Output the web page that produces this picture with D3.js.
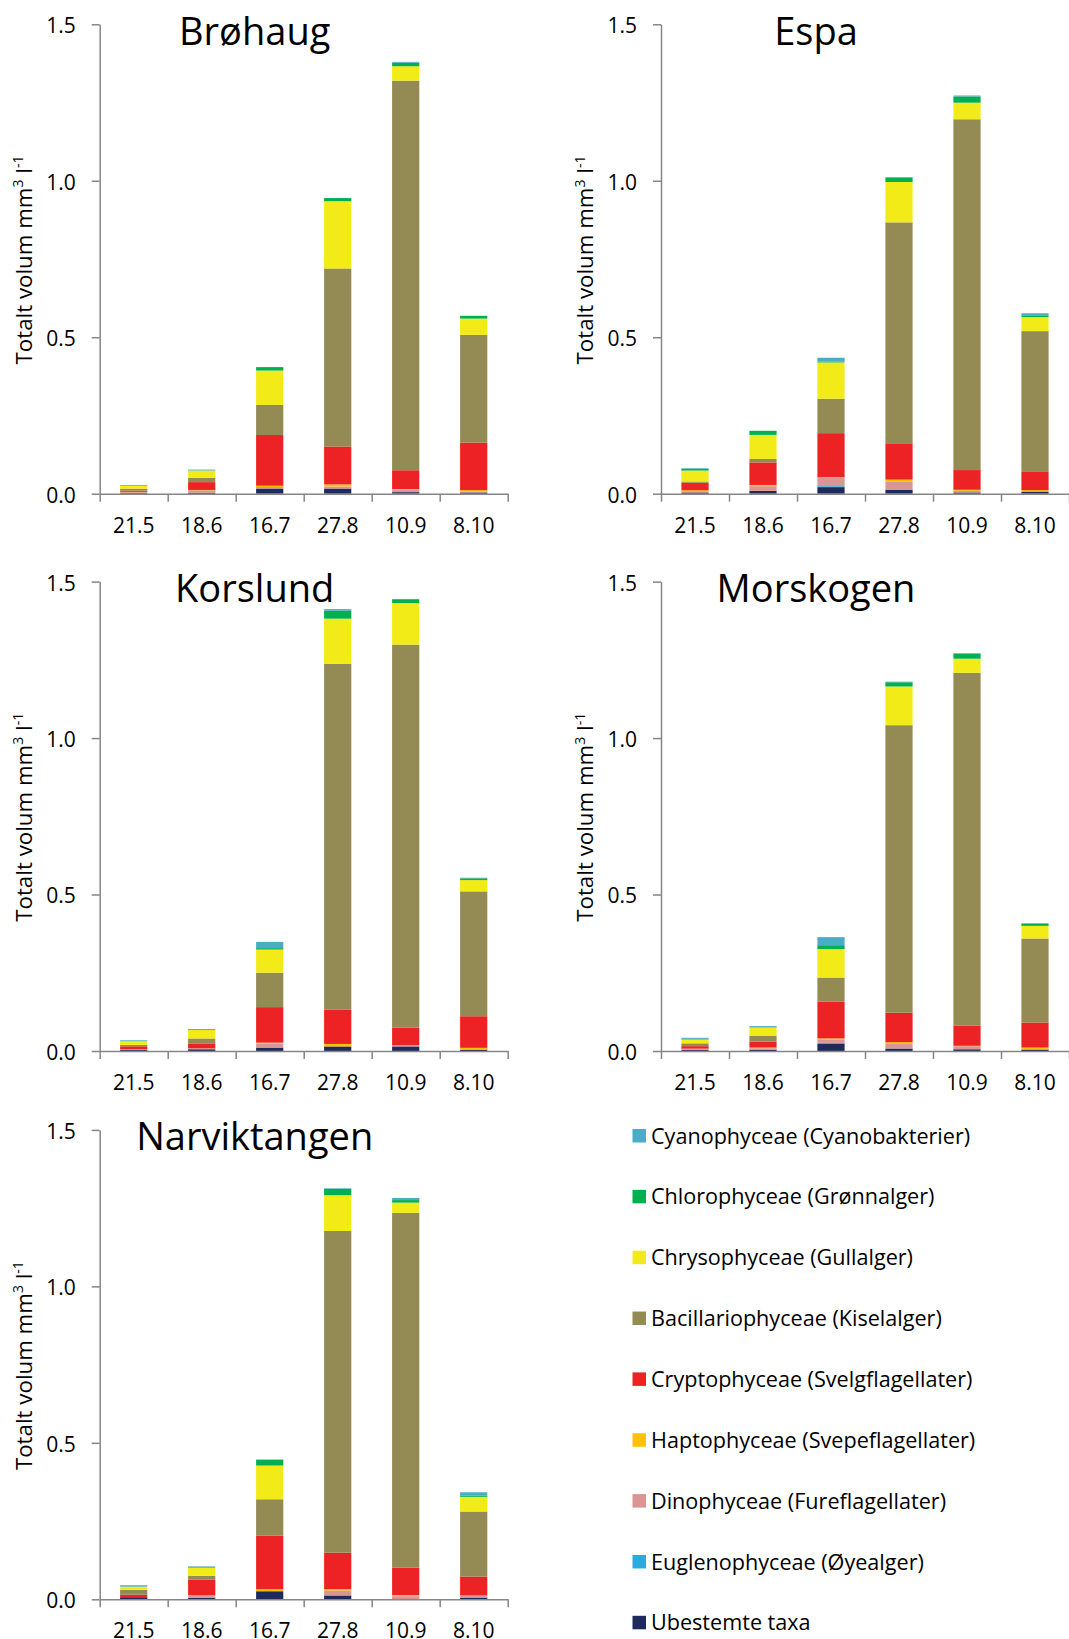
<!DOCTYPE html>
<html>
<head>
<meta charset="utf-8">
<script src="https://cdn.jsdelivr.net/npm/d3@7"></script>
<style>
  html, body { margin: 0; padding: 0; background: #fff; }
  svg { display: block; font-family: "Open Sans", "Noto Sans", sans-serif; }
</style>
</head>
<body>
<svg id="chart" width="1069" height="1639"></svg>
<script>
// ---------- DATA ----------
const dates = ["21.5", "18.6", "16.7", "27.8", "10.9", "8.10"];
const classes = [
  "Cyanophyceae (Cyanobakterier)",
  "Chlorophyceae (Grønnalger)",
  "Chrysophyceae (Gullalger)",
  "Bacillariophyceae (Kiselalger)",
  "Cryptophyceae (Svelgflagellater)",
  "Haptophyceae (Svepeflagellater)",
  "Dinophyceae (Fureflagellater)",
  "Euglenophyceae (Øyealger)",
  "Ubestemte taxa"
];
const classColors = ["#4BACC6", "#00B050", "#F3EB17", "#948A54", "#ED2224", "#FFC000", "#DA9694", "#29ABE2", "#1F2A5C"];
const siteNames = ["Brøhaug", "Espa", "Korslund", "Morskogen", "Narviktangen"];
const yTickValues = [0, 0.5, 1.0, 1.5];
const yLabel = "Totalt volum mm";

// rows follow the legend order of classes; columns follow dates (mm3/l)
const brohaug = [
  [0.002, 0.003, 0, 0, 0.003, 0],
  [0.001, 0, 0.011, 0.010, 0.011, 0.009],
  [0.009, 0.023, 0.110, 0.215, 0.046, 0.052],
  [0.006, 0.014, 0.096, 0.569, 1.245, 0.344],
  [0.004, 0.025, 0.162, 0.121, 0.060, 0.152],
  [0.001, 0.001, 0.004, 0.0066, 0.001, 0.0055],
  [0.003, 0.008, 0.005, 0.0066, 0.009, 0.002],
  [0, 0, 0, 0, 0, 0],
  [0.002, 0.003, 0.0165, 0.0165, 0.005, 0.004]
];
const espa = [
  [0.002, 0, 0.012, 0.002, 0.003, 0.0066],
  [0.0055, 0.013, 0.003, 0.014, 0.020, 0.0055],
  [0.035, 0.077, 0.116, 0.129, 0.053, 0.045],
  [0.004, 0.011, 0.110, 0.706, 1.121, 0.450],
  [0.024, 0.072, 0.141, 0.116, 0.063, 0.058],
  [0.003, 0.004, 0.002, 0.0055, 0.003, 0.003],
  [0.004, 0.015, 0.0265, 0.0276, 0.0055, 0.003],
  [0, 0, 0.003, 0, 0, 0],
  [0.004, 0.009, 0.021, 0.012, 0.004, 0.0055]
];
const korslund = [
  [0.002, 0.003, 0.020, 0.0045, 0, 0.002],
  [0.001, 0, 0.0045, 0.026, 0.0124, 0.0056],
  [0.012, 0.027, 0.074, 0.144, 0.1326, 0.036],
  [0.0045, 0.0157, 0.110, 1.106, 1.2236, 0.399],
  [0.010, 0.0157, 0.1135, 0.109, 0.056, 0.101],
  [0, 0, 0.003, 0.008, 0, 0.0056],
  [0.002, 0.003, 0.0127, 0, 0.0045, 0],
  [0, 0, 0, 0, 0, 0],
  [0.003, 0.0056, 0.011, 0.0146, 0.0146, 0.0045]
];
const morskogen = [
  [0.0034, 0.0045, 0.0258, 0.002, 0.002, 0.002],
  [0.002, 0, 0.0124, 0.0135, 0.0157, 0.0067],
  [0.0124, 0.026, 0.091, 0.1236, 0.045, 0.0404],
  [0.009, 0.019, 0.0764, 0.919, 1.128, 0.2685],
  [0.008, 0.019, 0.118, 0.094, 0.064, 0.080],
  [0, 0.002, 0.0034, 0.0056, 0.001, 0.0045],
  [0.0045, 0.0045, 0.011, 0.0146, 0.010, 0.002],
  [0, 0, 0.0034, 0, 0, 0],
  [0.003, 0.0045, 0.0225, 0.008, 0.0056, 0.0045]
];
const narviktangen = [
  [0.0045, 0.0045, 0, 0.002, 0.0067, 0.0112],
  [0, 0, 0.019, 0.0202, 0.008, 0.0034],
  [0.010, 0.0258, 0.1077, 0.1144, 0.0325, 0.047],
  [0.0157, 0.0123, 0.1167, 1.0277, 1.1343, 0.2076],
  [0.008, 0.049, 0.1705, 0.1167, 0.0875, 0.0606],
  [0, 0, 0.0067, 0.0045, 0.0034, 0.001],
  [0, 0.009, 0, 0.0157, 0.010, 0.0056],
  [0, 0, 0, 0, 0, 0],
  [0.0067, 0.0045, 0.0258, 0.0123, 0, 0.0056]
];
const siteData = [brohaug, espa, korslund, morskogen, narviktangen];

// ---------- LAYOUT ----------
const svg = d3.select("#chart");
const plotW = 408, plotH = 469.4;
const panelPos = [
  { x: 99.7, y0: 493.7 },
  { x: 661, y0: 493.7 },
  { x: 99.7, y0: 1051 },
  { x: 661, y0: 1051 },
  { x: 99.7, y0: 1599.3 }
];
const axisColor = "#868686";
const fontSize = 21;

// stacking from bottom: reverse legend order
const stackKeys = d3.range(classes.length).reverse();

siteNames.forEach((name, si) => {
  const pos = panelPos[si];
  const g = svg.append("g").attr("transform", `translate(${pos.x},${pos.y0 - plotH})`);
  const data = siteData[si];

  const y = d3.scaleLinear().domain([0, 1.5]).range([plotH, 0]);
  const x = d3.scaleBand().domain(dates).range([0, plotW]).paddingInner(0.6).paddingOuter(0.3);
  const xb = d3.scaleLinear().domain([0, dates.length]).range([0, plotW]);

  const rows = dates.map((d, di) => {
    const r = { date: d };
    classes.forEach((c, ci) => { r[ci] = data[ci][di]; });
    return r;
  });
  const series = d3.stack().keys(stackKeys)(rows);

  // bars
  g.append("g").selectAll("g").data(series).join("g")
    .attr("fill", s => classColors[s.key])
    .selectAll("rect").data(s => s).join("rect")
      .attr("x", d => x(d.data.date))
      .attr("width", x.bandwidth())
      .attr("y", d => y(d[1]))
      .attr("height", d => Math.max(0, y(d[0]) - y(d[1])));

  // y axis
  const ya = g.append("g").call(
    d3.axisLeft(y).tickValues(yTickValues).tickFormat(d3.format(".1f"))
      .tickSize(8).tickSizeOuter(0).tickPadding(16)
  );
  ya.select(".domain").attr("stroke", axisColor).attr("stroke-width", 1.5);
  ya.selectAll(".tick line").attr("stroke", axisColor).attr("stroke-width", 1.5);
  ya.selectAll(".tick text").attr("font-size", fontSize).attr("fill", "#000")
    .attr("font-family", "'Open Sans', sans-serif").attr("dy", "0.4em");

  // x axis line with category boundary ticks
  const xa = g.append("g").attr("transform", `translate(0,${plotH})`).call(
    d3.axisBottom(xb).tickValues(d3.range(dates.length + 1)).tickFormat("")
      .tickSize(8).tickSizeOuter(0)
  );
  xa.select(".domain").attr("stroke", axisColor).attr("stroke-width", 1.5);
  xa.selectAll(".tick line").attr("stroke", axisColor).attr("stroke-width", 1.5);

  // x labels
  const xl = g.append("g").attr("transform", `translate(0,${plotH})`).call(
    d3.axisBottom(x).tickSize(0).tickPadding(24)
  );
  xl.select(".domain").remove();
  xl.selectAll(".tick text").attr("font-size", fontSize).attr("fill", "#000")
    .attr("font-family", "'Open Sans', sans-serif");

  // title
  g.append("text")
    .attr("x", 155).attr("y", 20.5)
    .attr("text-anchor", "middle")
    .attr("font-size", 38)
    .attr("fill", "#000")
    .text(name);

  // y label
  const yl = g.append("text")
    .attr("transform", `translate(-68,${plotH / 2 + 1}) rotate(-90)`)
    .attr("text-anchor", "middle")
    .attr("font-size", 22.3)
    .attr("fill", "#000");
  yl.append("tspan").text(yLabel);
  yl.append("tspan").attr("font-size", 14).attr("dy", -8.5).text("3");
  yl.append("tspan").attr("dy", 8.5).text(" l");
  yl.append("tspan").attr("font-size", 14).attr("dy", -8.5).text("-1");
});

// legend
const legend = svg.append("g");
classes.forEach((c, i) => {
  const cy = 1135.8 + i * 60.85;
  legend.append("rect")
    .attr("x", 632.5).attr("y", cy - 6.8)
    .attr("width", 13.5).attr("height", 13.5)
    .attr("fill", classColors[i]);
  legend.append("text")
    .attr("x", 651).attr("y", cy)
    .attr("dy", "0.36em")
    .attr("font-size", 21.6)
    .attr("fill", "#000")
    .text(c);
});
</script>
</body>
</html>
